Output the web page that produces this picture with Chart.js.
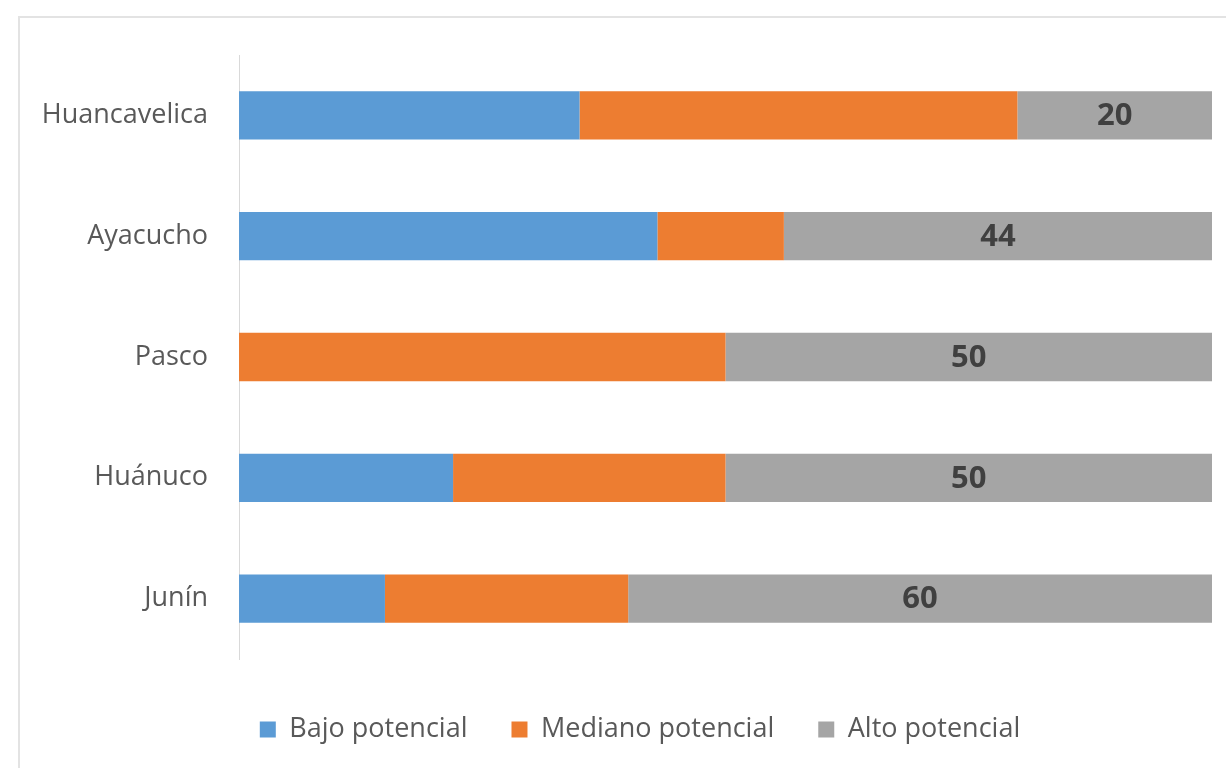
<!DOCTYPE html>
<html>
<head>
<meta charset="utf-8">
<script src="https://cdn.jsdelivr.net/npm/chart.js@4/dist/chart.umd.min.js"></script>
<style>
  html, body { margin: 0; padding: 0; background: #fff; overflow: hidden; }
  #marco { position: absolute; left: 18px; top: 16px; width: 1300px; height: 900px; border: 2px solid #e3e3e3; }
  #wrap { position: absolute; left: 0; top: 0; width: 1226px; height: 768px; }
</style>
</head>
<body>
<div id="marco"></div>
<div id="wrap"><canvas id="myChart" width="1226" height="768"></canvas></div>
<script>
// regiones y porcentajes por nivel de potencial
var regiones = ["Huancavelica", "Ayacucho", "Pasco", "Huánuco", "Junín"];
var bajo = [35, 43, 0, 22, 15];
var mediano = [45, 13, 50, 28, 25];
var alto = [20, 44, 50, 50, 60];

// etiqueta con el valor solo en la serie "Alto potencial"
var etiquetas = {
  id: "etiquetas",
  afterDatasetsDraw(chart) {
    var ctx = chart.ctx;
    var meta = chart.getDatasetMeta(2);
    ctx.save();
    ctx.font = "bold 31px 'Open Sans'";
    ctx.fillStyle = "#404040";
    ctx.textAlign = "center";
    ctx.textBaseline = "middle";
    meta.data.forEach(function (bar, i) {
      var c = bar.getCenterPoint();
      ctx.fillText(alto[i], c.x, c.y + 1);
    });
    ctx.restore();
  }
};

// corre la leyenda un poco a la derecha
var moverLeyenda = {
  id: "moverLeyenda",
  afterLayout(chart) {
    var d = 19;
    chart.legend.left += d;
    chart.legend.right += d;
  }
};

new Chart("myChart", {
  type: "bar",
  data: {
    labels: regiones,
    datasets: [
      { label: "Bajo potencial", data: bajo, backgroundColor: "#5b9bd5" },
      { label: "Mediano potencial", data: mediano, backgroundColor: "#ed7d31" },
      { label: "Alto potencial", data: alto, backgroundColor: "#a5a5a5" }
    ]
  },
  options: {
    indexAxis: "y",
    responsive: false,
    animation: false,
    categoryPercentage: 1,
    barPercentage: 0.4,
    layout: { padding: { left: 30, right: 14, top: 55, bottom: 15 } },
    scales: {
      x: {
        stacked: true, min: 0, max: 100,
        grid: { display: false, drawTicks: false },
        border: { display: false },
        ticks: { display: false },
        afterFit: function (s) { s.height = 13; }
      },
      y: {
        stacked: true,
        grid: { display: false, drawTicks: false },
        border: { display: true, color: "#d9d9d9", width: 1 },
        ticks: { color: "#595959", padding: 31, font: { family: "'Open Sans'", size: 27 } },
        afterFit: function (s) { s.width = 209; }
      }
    },
    plugins: {
      legend: {
        position: "bottom",
        labels: {
          boxWidth: 16, boxHeight: 16, padding: 44,
          color: "#595959",
          font: { family: "'Open Sans'", size: 27 }
        }
      },
      tooltip: { enabled: false }
    }
  },
  plugins: [etiquetas, moverLeyenda]
});
</script>
</body>
</html>
